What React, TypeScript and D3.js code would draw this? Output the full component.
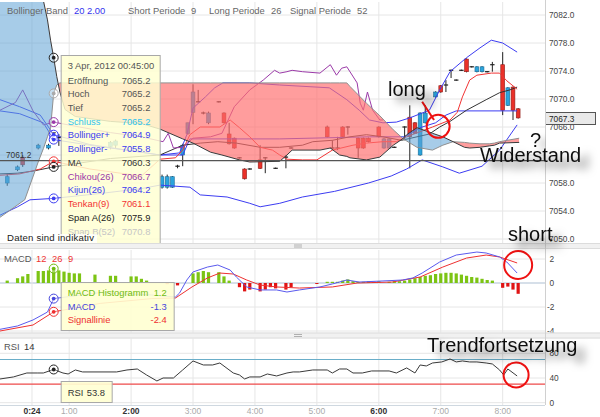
import * as d3 from "d3";

const WIDTH = 600;
const HEIGHT = 417;
const PLOT_RIGHT = 545;
const MAIN_TOP = 2;
const MAIN_BOTTOM = 243;
const MACD_TOP = 250;
const MACD_BOTTOM = 333;
const RSI_TOP = 338;
const RSI_BOTTOM = 405;
const FONT = '"Liberation Sans", Arial, sans-serif';

// time = minutes after midnight, 3 Apr 2012 (5 minute candles)
const candleTime = [0, 10, 15, 30, 40, 45, 50, 100, 105, 150, 155, 160, 165, 170, 175, 180, 185, 190, 195, 205, 210, 215, 220, 225, 230, 235, 245, 250, 260, 270, 275, 310, 315, 320, 325, 330, 340, 345, 350, 360, 365, 370, 375, 385, 390, 395, 400, 405, 415, 420, 425, 430, 435, 440, 445, 450, 455, 460, 465, 470, 480, 485, 490, 495];
const candleOpen = [7058.0, 7059.9, 7061.7, 7063.0, 7063.0, 7065.2, 7064.5, 7063.2, 7063.4, 7057.4, 7057.4, 7057.4, 7060.4, 7062.0, 7065.1, 7068.1, 7069.6, 7068.0, 7066.6, 7069.6, 7068.0, 7065.0, 7064.4, 7061.6, 7060.0, 7060.0, 7061.3, 7061.6, 7060.1, 7061.7, 7063.0, 7066.0, 7063.0, 7063.0, 7066.0, 7066.0, 7064.4, 7064.4, 7064.4, 7066.0, 7063.0, 7063.0, 7063.1, 7066.0, 7067.4, 7066.6, 7062.0, 7066.6, 7070.3, 7071.9, 7072.0, 7074.1, 7072.7, 7074.1, 7075.7, 7074.6, 7073.9, 7073.9, 7073.9, 7074.9, 7074.9, 7069.1, 7071.7, 7068.6];
const candleHigh = [7059.3, 7060.5, 7062.0, 7063.6, 7063.6, 7065.2, 7065.0, 7064.0, 7064.2, 7059.2, 7059.2, 7059.0, 7060.6, 7063.6, 7066.6, 7072.1, 7071.3, 7068.2, 7068.2, 7069.7, 7068.1, 7066.6, 7064.5, 7061.7, 7060.1, 7060.1, 7063.4, 7061.7, 7060.2, 7062.0, 7063.1, 7066.2, 7064.1, 7064.6, 7066.1, 7066.1, 7064.5, 7064.5, 7064.5, 7066.1, 7064.4, 7064.4, 7063.2, 7066.1, 7069.1, 7066.7, 7068.1, 7069.1, 7071.1, 7072.0, 7072.7, 7074.2, 7072.8, 7074.2, 7075.8, 7074.7, 7074.7, 7074.7, 7074.0, 7075.3, 7076.7, 7071.7, 7071.8, 7068.7];
const candleLow = [7057.6, 7059.7, 7060.3, 7062.8, 7062.8, 7065.2, 7063.3, 7062.8, 7063.0, 7057.2, 7057.2, 7057.3, 7060.1, 7060.4, 7064.9, 7066.4, 7069.5, 7067.8, 7066.4, 7069.5, 7066.5, 7063.5, 7062.9, 7061.5, 7058.5, 7059.9, 7060.0, 7059.4, 7060.0, 7060.1, 7062.9, 7064.5, 7062.9, 7062.7, 7064.5, 7064.9, 7061.6, 7062.9, 7063.8, 7064.5, 7062.9, 7062.9, 7063.0, 7064.1, 7060.1, 7065.0, 7061.9, 7066.5, 7070.2, 7070.9, 7071.0, 7073.0, 7072.6, 7074.0, 7073.8, 7074.5, 7073.8, 7073.8, 7073.8, 7073.9, 7067.7, 7069.0, 7067.0, 7067.2];
const candleClose = [7058.9, 7060.3, 7060.6, 7063.4, 7063.4, 7065.2, 7064.6, 7063.8, 7064.0, 7058.9, 7058.9, 7058.9, 7060.4, 7063.4, 7066.6, 7071.0, 7069.6, 7068.0, 7068.0, 7069.6, 7066.6, 7063.6, 7063.0, 7061.6, 7058.6, 7060.0, 7060.1, 7061.6, 7060.1, 7061.7, 7063.0, 7064.6, 7063.0, 7063.0, 7064.6, 7066.0, 7063.0, 7063.0, 7063.9, 7064.6, 7064.3, 7064.3, 7063.1, 7066.0, 7064.6, 7065.1, 7068.0, 7068.0, 7071.0, 7071.0, 7072.0, 7074.1, 7072.7, 7074.1, 7073.9, 7074.6, 7074.6, 7074.6, 7073.9, 7074.9, 7068.4, 7071.6, 7068.4, 7067.3];

// Ichimoku cloud
const cloudTime = [-7, 17, 30, 35, 39, 42, 45, 48, 51, 56, 66, 100, 130, 148, 170, 180, 197, 208, 225, 235, 264, 271, 276, 303, 313, 322, 329, 332, 348, 361, 374, 383, 387, 397, 412, 422, 432, 443, 448, 458, 467, 472, 477, 496];
const spanA = [7088, 7086.5, 7085, 7084.1, 7081.3, 7078.4, 7075.9, 7073.2, 7071.0, 7068.5, 7067.5, 7066.8, 7066.5, 7065.7, 7064.3, 7063.7, 7062.4, 7062.0, 7061.3, 7061.0, 7061.1, 7062.0, 7062.7, 7062.7, 7063.0, 7062.0, 7061.8, 7061.6, 7061.3, 7061.7, 7063.4, 7064.3, 7064.9, 7065.9, 7065.1, 7064.6, 7063.9, 7063.1, 7063.0, 7063.1, 7063.3, 7063.4, 7063.7, 7063.8];
const spanB = [7053.1, 7055.6, 7061.0, 7062.9, 7064.6, 7065.9, 7070.8, 7072.0, 7072.3, 7072.3, 7072.3, 7072.3, 7072.3, 7072.3, 7072.3, 7072.3, 7072.3, 7072.3, 7072.3, 7072.3, 7072.3, 7072.3, 7072.3, 7072.3, 7072.3, 7072.3, 7072.3, 7071.8, 7069.4, 7067.6, 7065.6, 7064.4, 7064.0, 7063.1, 7062.7, 7063.4, 7063.9, 7063.8, 7063.7, 7063.6, 7063.6, 7063.7, 7063.9, 7064.4];

const chikou: [number, number][] = [[-7, 7068.4], [8, 7069.5], [15, 7071.3], [25, 7068.3], [35, 7066.3], [45, 7066.7], [70, 7066.0], [100, 7065.2], [130, 7064.6], [151, 7063.9], [156, 7065.1], [161, 7063.0], [170, 7063.1], [180, 7064.4], [197, 7064.6], [208, 7065.1], [220, 7068.9], [235, 7071.3], [248, 7072.7], [259, 7074.1], [264, 7073.7], [271, 7073.9], [276, 7074.1], [286, 7073.9], [303, 7073.7], [313, 7074.9], [319, 7073.4], [324, 7074.4], [329, 7074.6], [339, 7072.3], [342, 7069.4], [345, 7068.4], [349, 7071.0], [354, 7068.4], [361, 7067.0], [364, 7067.0]];
const bollUpper: [number, number][] = [[-7, 7069.9], [12, 7068.9], [32, 7067.7], [45, 7064.9], [80, 7063.5], [120, 7062.6], [148, 7062.0], [167, 7062.3], [174, 7064.9], [180, 7068.7], [192, 7070.3], [201, 7071.6], [209, 7072.3], [235, 7072.3], [264, 7072.0], [312, 7071.6], [329, 7069.9], [341, 7068.4], [351, 7067.0], [364, 7066.6], [377, 7066.7], [390, 7067.3], [409, 7068.4], [419, 7071.3], [429, 7073.9], [445, 7075.9], [458, 7077.3], [469, 7078.4], [480, 7078.0], [494, 7076.7]];
const bollLower: [number, number][] = [[-7, 7053.4], [10, 7054.6], [22, 7055.6], [45, 7055.8], [90, 7056.5], [130, 7057.2], [148, 7057.7], [177, 7057.4], [187, 7056.3], [213, 7056.0], [235, 7055.1], [245, 7054.6], [264, 7055.1], [286, 7056.0], [317, 7056.8], [350, 7058.0], [372, 7059.0], [387, 7060.0], [402, 7061.3], [422, 7060.3], [438, 7059.4], [460, 7060.4], [477, 7062.7], [494, 7066.3]];
const movingAvg: [number, number][] = [[-7, 7059.3], [10, 7059.4], [25, 7059.7], [45, 7060.3], [100, 7061.5], [148, 7062.0], [170, 7063.4], [187, 7063.7], [204, 7063.9], [222, 7063.7], [245, 7063.1], [264, 7063.1], [286, 7063.4], [296, 7063.9], [315, 7064.1], [332, 7064.6], [348, 7064.9], [364, 7064.6], [382, 7064.1], [409, 7065.0], [419, 7066.0], [429, 7066.8], [445, 7068.4], [464, 7069.9], [477, 7070.9], [487, 7071.3], [494, 7071.7]];
const kijun: [number, number][] = [[-7, 7068.3], [12, 7067.9], [35, 7066.6], [45, 7064.2], [80, 7063.4], [130, 7062.4], [148, 7062.0], [170, 7062.0], [177, 7064.3], [264, 7064.3], [351, 7064.6], [385, 7064.6], [400, 7065.9], [415, 7066.6], [425, 7067.7], [435, 7068.3], [494, 7068.3]];
const tenkan: [number, number][] = [[-7, 7059.1], [12, 7059.3], [32, 7060.0], [45, 7061.1], [80, 7060.0], [130, 7059.0], [148, 7061.4], [163, 7061.6], [170, 7062.7], [177, 7064.9], [187, 7066.0], [206, 7066.0], [216, 7067.0], [225, 7065.9], [235, 7064.6], [245, 7063.1], [257, 7062.7], [264, 7062.0], [271, 7061.4], [286, 7061.3], [300, 7061.3], [315, 7062.7], [335, 7063.4], [348, 7063.7], [364, 7063.9], [377, 7063.9], [387, 7064.6], [412, 7066.0], [429, 7067.0], [436, 7068.1], [441, 7070.3], [448, 7072.7], [455, 7073.4], [469, 7073.7], [477, 7073.7], [484, 7072.6], [494, 7071.4]];

// MACD 12 26 9
const macdLine: [number, number][] = [[-7, -3.86], [10, -3.58], [25, -3.08], [39, -2.42], [45, -1.3], [90, -0.8], [140, -1.0], [163, -1.17], [167, -0.83], [174, 0.25], [180, 0.92], [194, 1.33], [204, 1.5], [216, 1.08], [222, 0.5], [232, -0.33], [245, -0.58], [261, -0.58], [271, -0.75], [283, -0.58], [303, -0.33], [315, -0.08], [329, 0.25], [341, 0.08], [364, 0.17], [383, 0.25], [393, 0.42], [402, 0.83], [419, 1.75], [435, 2.33], [455, 2.58], [464, 2.5], [477, 2.17], [484, 1.75], [494, 0.83]];
const signalLine: [number, number][] = [[-7, -4.0], [25, -3.5], [45, -2.4], [90, -1.7], [140, -1.3], [163, -1.25], [179, -0.33], [194, 0.42], [206, 0.83], [219, 0.75], [232, 0.25], [245, -0.17], [261, -0.33], [283, -0.42], [315, -0.33], [339, 0.0], [373, 0.08], [400, 0.5], [422, 1.33], [445, 2.08], [464, 2.33], [477, 2.17], [494, 1.67]];
const histTime = [0, 10, 15, 20, 30, 35, 40, 45, 50, 55, 60, 65, 70, 85, 100, 105, 120, 125, 130, 135, 155, 165, 180, 185, 190, 195, 205, 210, 215, 225, 230, 235, 245, 250, 255, 260, 270, 275, 300, 310, 315, 320, 325, 330, 335, 340, 345, 350, 355, 360, 370, 375, 380, 385, 390, 395, 400, 405, 410, 415, 420, 425, 430, 435, 440, 445, 450, 455, 460, 465, 470, 480, 485, 490, 495];
const histValue = [0.2, 0.4, 0.55, 0.75, 1.0, 1.0, 1.05, 1.2, 1.05, 0.95, 0.85, 0.8, 0.8, 0.7, 0.6, 0.6, 0.55, 0.55, 0.35, 0.2, -0.1, -0.2, 0.8, 0.9, 1.0, 0.9, 0.9, 0.55, 0.2, -0.35, -0.7, -0.55, -0.7, -0.55, -0.35, -0.45, -0.55, -0.35, -0.05, 0.1, 0.1, 0.1, 0.2, 0.3, 0.15, 0.1, 0.1, 0.15, 0.1, 0.15, 0.1, 0.15, 0.15, 0.2, 0.3, 0.4, 0.5, 0.6, 0.65, 0.75, 0.8, 0.85, 0.85, 0.8, 0.7, 0.6, 0.5, 0.45, 0.35, 0.25, 0.2, -0.4, -0.3, -0.55, -0.9];

// RSI 14
const rsiLine: [number, number][] = [[-7, 38.4], [6, 41.7], [19, 48.1], [29, 48.1], [35, 48.1], [45, 53.8], [54, 48.1], [59, 46.5], [66, 53.0], [73, 49.8], [106, 49.8], [116, 53.0], [126, 54.6], [135, 44.9], [145, 35.2], [151, 40.0], [161, 40.0], [170, 53.0], [180, 67.6], [190, 61.1], [199, 61.1], [206, 64.3], [219, 48.1], [225, 44.9], [230, 38.4], [235, 41.7], [245, 41.7], [252, 46.5], [261, 43.3], [271, 48.1], [277, 49.8], [283, 49.8], [296, 53.0], [310, 53.0], [315, 48.1], [322, 54.6], [329, 54.6], [335, 48.1], [344, 48.1], [353, 51.4], [370, 51.4], [377, 48.1], [387, 56.3], [395, 48.1], [400, 61.1], [406, 59.5], [412, 64.3], [421, 66.0], [429, 70.8], [435, 66.0], [441, 67.6], [448, 66.0], [455, 66.0], [464, 64.3], [470, 62.7], [477, 53.0], [481, 44.9], [485, 54.6], [494, 43.3]];
const rsiUpper = 70;
const rsiLower = 30;

const priceTicks = [7082, 7078, 7074, 7070, 7066, 7062, 7058, 7054, 7050];
// the 7062.0 label sits under the "Widerstand" note in the original and can't be seen
const hiddenPriceLabels = [7062];
const macdTicks = [2, 0, -2, -4];
const rsiTicks = [80, 40, 0];
const timeTicks = [24, 60, 120, 180, 240, 300, 360, 420, 480];
const timeLabels = ["0:24", "1:00", "2:00", "3:00", "4:00", "5:00", "6:00", "7:00", "8:00"];
const strongTimes = ["0:24", "2:00", "6:00"];

const hoverTime = 45;
const hoverDate = "3 Apr, 2012 00:45:00";
const tipLabels = ["Eröffnung", "Hoch", "Tief", "Schluss", "Bollinger+", "Bollinger-", "MA", "Chikou(26)", "Kijun(26)", "Tenkan(9)", "Span A(26)", "Span B(52)"];
const tipValues = [7065.2, 7065.2, 7065.2, 7065.2, 7064.9, 7055.8, 7060.3, 7066.7, 7064.2, 7061.1, 7075.9, 7070.8];
const macdTipLabels = ["MACD Histogramm", "MACD", "Signallinie"];
const macdTipValues = [1.2, -1.3, -2.4];
const rsiTipValue = 53.8;
const lastPrice = 7067.3;
const resistance = 7061.2;

const COL = {
  up: "#2ba4dc",
  upEdge: "#1c6d97",
  down: "#ea3129",
  downEdge: "#8e1c18",
  blue: "#3c3cf2",
  red: "#f23434",
  purple: "#9b3aa8",
  black: "#333333",
  green: "#7cc414",
  grid: "#e6e6e6",
};
const tipColors = ["#555", "#555", "#555", "#33c4ee", COL.blue, COL.blue, "#333", COL.purple, COL.blue, COL.red, "#222", "#c6c6c6"];
const macdTipColors = ["#6fbc10", "#4646dc", "#ee3030"];

export default function App() {
  const x = d3.scaleLinear().domain([-7, 521]).range([0, PLOT_RIGHT]);
  const yP = d3.scaleLinear().domain([7050, 7082]).range([239, 15]);
  const yM = d3.scaleLinear().domain([-4, 2]).range([331, 259]);
  const yR = d3.scaleLinear().domain([0, 80]).range([402.7, 353.3]);

  const priceLine = d3.line<[number, number]>().x((d) => x(d[0])).y((d) => yP(d[1]));
  const macdPath = d3.line<[number, number]>().x((d) => x(d[0])).y((d) => yM(d[1]));
  const rsiPath = d3.line<[number, number]>().x((d) => x(d[0])).y((d) => yR(d[1]));

  const idx = d3.range(cloudTime.length);
  const cloudX = (i: number) => x(cloudTime[i]);
  const cloudFill = d3.area<number>().x(cloudX).y0((i) => yP(spanA[i])).y1((i) => yP(spanB[i]))(idx) || "";
  const belowA = d3.area<number>().x(cloudX).y0((i) => yP(spanA[i])).y1(MAIN_BOTTOM)(idx) || "";
  const aboveA = d3.area<number>().x(cloudX).y0(MAIN_TOP).y1((i) => yP(spanA[i]))(idx) || "";
  const spanAPath = d3.line<number>().x(cloudX).y((i) => yP(spanA[i]))(idx) || "";
  const spanBPath = d3.line<number>().x(cloudX).y((i) => yP(spanB[i]))(idx) || "";

  const hx = x(hoverTime);
  const tipX = hx + 7;
  const small = 9.4;

  // marker values at the hovered candle
  const priceMarkers = [
    { v: tipValues[10], c: "#222" },
    { v: tipValues[11], c: "#aaa" },
    { v: tipValues[7], c: COL.purple },
    { v: tipValues[4], c: COL.blue },
    { v: tipValues[8], c: COL.blue },
    { v: tipValues[9], c: COL.red },
    { v: tipValues[6], c: "#222" },
    { v: tipValues[5], c: COL.blue },
  ];

  const marker = (cx: number, cy: number, c: string, key: string) => (
    <g key={key}>
      <circle cx={cx} cy={cy} r={4.5} fill="rgba(255,255,255,0.35)" stroke={c} strokeWidth={1} />
      <circle cx={cx} cy={cy} r={1.9} fill={c} />
    </g>
  );

  const bandHandle = (y: number) => (
    <g>
      <rect x={0} y={y} width={WIDTH} height={6} fill="#f1f1f1" />
      <line x1={0} x2={WIDTH} y1={y + 0.5} y2={y + 0.5} stroke="#dcdcdc" />
      <line x1={0} x2={WIDTH} y1={y + 5.5} y2={y + 5.5} stroke="#dcdcdc" />
      <line x1={294} x2={302} y1={y + 2} y2={y + 2} stroke="#b0b0b0" />
      <line x1={294} x2={302} y1={y + 4} y2={y + 4} stroke="#b0b0b0" />
    </g>
  );

  const annotation = { fontFamily: FONT, fontSize: 20, fill: "#111", filter: "url(#shadow)" } as const;

  return (
    <svg width={WIDTH} height={HEIGHT} style={{ position: "absolute", left: 0, top: 0, background: "#fff" }} fontFamily={FONT}>
      <defs>
        <clipPath id="mainClip">
          <rect x={0} y={MAIN_TOP} width={PLOT_RIGHT} height={MAIN_BOTTOM - MAIN_TOP} />
        </clipPath>
        <clipPath id="macdClip">
          <rect x={0} y={MACD_TOP} width={PLOT_RIGHT} height={MACD_BOTTOM - MACD_TOP} />
        </clipPath>
        <clipPath id="blueClip">
          <path d={belowA} />
        </clipPath>
        <clipPath id="redClip">
          <path d={aboveA} />
        </clipPath>
        <filter id="shadow" x="-30%" y="-60%" width="170%" height="230%">
          <feDropShadow dx={8} dy={7} stdDeviation={4} floodColor="#000" floodOpacity={0.55} />
        </filter>
      </defs>

      {/* ---------- main panel ---------- */}
      <g>
        {priceTicks.map((p) => (
          <line key={p} x1={0} x2={PLOT_RIGHT} y1={yP(p)} y2={yP(p)} stroke={COL.grid} />
        ))}
        {timeTicks.map((t) => (
          <line key={t} x1={x(t)} x2={x(t)} y1={MAIN_TOP} y2={MAIN_BOTTOM} stroke={COL.grid} />
        ))}
      </g>

      <g clipPath="url(#mainClip)">
        {/* candles */}
        {candleTime.map((t, i) => {
          const o = candleOpen[i];
          const c = candleClose[i];
          const cx = x(t);
          const doji = Math.abs(o - c) < 0.15;
          const up = c > o;
          return (
            <g key={t}>
              <line x1={cx} x2={cx} y1={yP(candleHigh[i])} y2={yP(candleLow[i])} stroke="#222" strokeWidth={1} />
              {doji ? (
                <line x1={cx - 2.2} x2={cx + 2.2} y1={yP(o)} y2={yP(o)} stroke="#222" strokeWidth={1.2} />
              ) : (
                <rect
                  x={cx - 1.9}
                  width={3.8}
                  y={yP(Math.max(o, c))}
                  height={Math.abs(yP(o) - yP(c))}
                  fill={up ? COL.up : COL.down}
                  stroke={up ? COL.upEdge : COL.downEdge}
                  strokeWidth={0.6}
                />
              )}
            </g>
          );
        })}

        {/* indicator lines */}
        <path d={priceLine(bollLower) || ""} fill="none" stroke={COL.blue} strokeWidth={1} />
        <path d={priceLine(bollUpper) || ""} fill="none" stroke={COL.blue} strokeWidth={1} />
        <path d={priceLine(kijun) || ""} fill="none" stroke={COL.blue} strokeWidth={1} />
        <path d={priceLine(movingAvg) || ""} fill="none" stroke={COL.black} strokeWidth={1} />
        <path d={priceLine(tenkan) || ""} fill="none" stroke={COL.red} strokeWidth={1} />
        <path d={priceLine(chikou) || ""} fill="none" stroke={COL.purple} strokeWidth={1} />

        {/* Ichimoku cloud */}
        <path d={cloudFill} fill="#5fa3d6" opacity={0.55} clipPath="url(#blueClip)" />
        <path d={cloudFill} fill="#ff6f6f" opacity={0.68} clipPath="url(#redClip)" />
        <path d={spanBPath} fill="none" stroke="#8f8f8f" strokeWidth={1} />
        <path d={spanAPath} fill="none" stroke="#3a3a3a" strokeWidth={1} />

        {/* resistance */}
        <line x1={0} x2={PLOT_RIGHT} y1={yP(resistance)} y2={yP(resistance)} stroke="#555" strokeWidth={1.2} />
        <text x={6} y={yP(resistance) - 3} fontSize={8.3} fill="#333">
          {resistance.toFixed(1)}
        </text>

        {priceMarkers.map((m, i) => marker(hx, yP(m.v), m.c, "pm" + i))}

        {/* tooltip */}
        <rect x={tipX + 0.5} y={55.5} width={99} height={200} fill="#ffffd2" fillOpacity={0.84} stroke="#a8a8a8" />
        <text x={tipX + 7} y={68.5} fontSize={small} fill="#555">
          {hoverDate}
        </text>
        {tipLabels.map((l, i) => (
          <g key={l} fontSize={small} fill={tipColors[i]}>
            <text x={tipX + 7} y={83.5 + i * 13.73}>{l}</text>
            <text x={tipX + 61} y={83.5 + i * 13.73}>{tipValues[i].toFixed(1)}</text>
          </g>
        ))}

        <rect x={0} y={234} width={97} height={10} fill="#fff" fillOpacity={0.8} />
        <text x={7} y={240.5} fontSize={9.6} fill="#222" letterSpacing={0.2}>
          Daten sind indikativ
        </text>
      </g>

      {/* header */}
      <g fontSize={small} fill="#666">
        <text x={7} y={14}>Bollinger Band</text>
        <text x={74} y={14} fill="#3333ee">20</text>
        <text x={87} y={14} fill="#3333ee">2.00</text>
        <text x={128} y={14}>Short Periode</text>
        <text x={191} y={14}>9</text>
        <text x={209} y={14}>Long Periode</text>
        <text x={271} y={14}>26</text>
        <text x={290} y={14}>Signal Periode</text>
        <text x={357} y={14}>52</text>
      </g>

      {/* price axis */}
      <g fontSize={8.3} fill="#444">
        {priceTicks
          .filter((p) => !hiddenPriceLabels.includes(p))
          .map((p) => (
            <text key={p} x={549} y={yP(p) + 3}>
              {p.toFixed(1)}
            </text>
          ))}
      </g>
      <rect x={545.5} y={112.5} width={50} height={12} fill="#e9e9e9" stroke="#555" />
      <text x={549} y={121.5} fontSize={8.3} fill="#222">
        {lastPrice.toFixed(1)}
      </text>

      {bandHandle(MAIN_BOTTOM)}

      {/* ---------- MACD ---------- */}
      <g>
        {macdTicks.map((v) => (
          <line key={v} x1={0} x2={PLOT_RIGHT} y1={yM(v)} y2={yM(v)} stroke={v === 0 ? "#c9d5e2" : COL.grid} strokeWidth={v === 0 ? 1.5 : 1} />
        ))}
        {timeTicks.map((t) => (
          <line key={t} x1={x(t)} x2={x(t)} y1={MACD_TOP} y2={MACD_BOTTOM} stroke={COL.grid} />
        ))}
      </g>
      <g clipPath="url(#macdClip)">
        {histTime.map((t, i) => {
          const v = histValue[i];
          return (
            <rect
              key={t}
              x={x(t) - 1.6}
              width={3.2}
              y={Math.min(yM(v), yM(0))}
              height={Math.max(1, Math.abs(yM(v) - yM(0)))}
              fill={v >= 0 ? COL.green : "#e01414"}
            />
          );
        })}
        <path d={macdPath(signalLine) || ""} fill="none" stroke="#ee3030" strokeWidth={1} />
        <path d={macdPath(macdLine) || ""} fill="none" stroke="#5a5aee" strokeWidth={1} />
        {marker(hx, yM(macdTipValues[0]), "#6fbc10", "mh")}
        {marker(hx, yM(macdTipValues[1]), "#4646dc", "mm")}
        {marker(hx, yM(macdTipValues[2]), "#ee3030", "ms")}

        <rect x={tipX + 0.5} y={282.5} width={113} height={48} fill="#ffffd2" fillOpacity={0.9} stroke="#a8a8a8" />
        {macdTipLabels.map((l, i) => (
          <g key={l} fontSize={small} fill={macdTipColors[i]}>
            <text x={tipX + 7} y={296 + i * 13.5}>{l}</text>
            <text x={tipX + 106} y={296 + i * 13.5} textAnchor="end">
              {macdTipValues[i].toFixed(1)}
            </text>
          </g>
        ))}
      </g>
      <g fontSize={small}>
        <text x={4} y={262} fill="#555">MACD</text>
        <text x={36} y={262} fill="#e33">12</text>
        <text x={52} y={262} fill="#e33">26</text>
        <text x={68} y={262} fill="#e33">9</text>
      </g>
      <g fontSize={8.3} fill="#444">
        {macdTicks.map((v) => (
          <text key={v} x={v < 0 ? 547 : 549.5} y={yM(v) + 3}>
            {v}
          </text>
        ))}
      </g>

      {bandHandle(MACD_BOTTOM - 0.5)}

      {/* ---------- RSI ---------- */}
      <g>
        {rsiTicks.map((v) => (
          <line key={v} x1={0} x2={PLOT_RIGHT} y1={yR(v)} y2={yR(v)} stroke={COL.grid} />
        ))}
        {timeTicks.map((t) => (
          <line key={t} x1={x(t)} x2={x(t)} y1={RSI_TOP} y2={RSI_BOTTOM} stroke={COL.grid} />
        ))}
        <line x1={0} x2={PLOT_RIGHT} y1={yR(rsiUpper)} y2={yR(rsiUpper)} stroke="#6aaec9" strokeWidth={1.2} />
        <line x1={0} x2={PLOT_RIGHT} y1={yR(rsiLower)} y2={yR(rsiLower)} stroke="#ee4a4a" strokeWidth={1.2} />
        <path d={rsiPath(rsiLine) || ""} fill="none" stroke="#3a3a3a" strokeWidth={1} />
        {marker(hx, yR(rsiTipValue), "#222", "rsi")}
        <rect x={tipX + 0.5} y={381.5} width={51} height={21} fill="#ffffd2" fillOpacity={0.92} stroke="#a8a8a8" />
        <text x={tipX + 7} y={395.5} fontSize={small} fill="#333">
          RSI
        </text>
        <text x={tipX + 26} y={395.5} fontSize={small} fill="#333">
          {rsiTipValue.toFixed(1)}
        </text>
      </g>
      <g fontSize={small}>
        <text x={4} y={350} fill="#555">RSI</text>
        <text x={24} y={350} fill="#333">14</text>
      </g>
      <g fontSize={8.3} fill="#444">
        {rsiTicks.map((v) => (
          <text key={v} x={549.5} y={yR(v) + 3}>
            {v}
          </text>
        ))}
      </g>

      {/* frame + time axis */}
      <line x1={PLOT_RIGHT + 0.5} x2={PLOT_RIGHT + 0.5} y1={0} y2={RSI_BOTTOM} stroke="#d0d0d0" />
      <line x1={0} x2={PLOT_RIGHT} y1={RSI_BOTTOM + 0.5} y2={RSI_BOTTOM + 0.5} stroke="#cfd8e0" />
      <g fontSize={8.5} textAnchor="middle">
        {timeTicks.map((t, i) => {
          const strong = strongTimes.includes(timeLabels[i]);
          return (
            <text key={t} x={x(t)} y={413.5} fill={strong ? "#333" : "#aaa"} fontWeight={strong ? "bold" : "normal"}>
              {timeLabels[i]}
            </text>
          );
        })}
      </g>

      {/* ---------- annotations ---------- */}
      <g>
        <line x1={x(402)} y1={yP(7069.6)} x2={x(413.5)} y2={yP(7067.0)} stroke="#ee1111" strokeWidth={2} />
        <circle cx={x(417.5)} cy={yP(7066.1)} r={11.5} fill="none" stroke="#ee1111" strokeWidth={2} />
        <circle cx={x(495)} cy={yM(1.5)} r={14} fill="none" stroke="#ee1111" strokeWidth={2} />
        <circle cx={x(493)} cy={yR(45)} r={12.5} fill="none" stroke="#ee1111" strokeWidth={2} />
        <text x={388} y={96} {...annotation}>long</text>
        <text x={530} y={147} {...annotation}>?</text>
        <text x={480} y={162} {...annotation}>Widerstand</text>
        <text x={508} y={241} {...annotation}>short</text>
        <text x={427} y={352} {...annotation}>Trendfortsetzung</text>
      </g>
    </svg>
  );
}
